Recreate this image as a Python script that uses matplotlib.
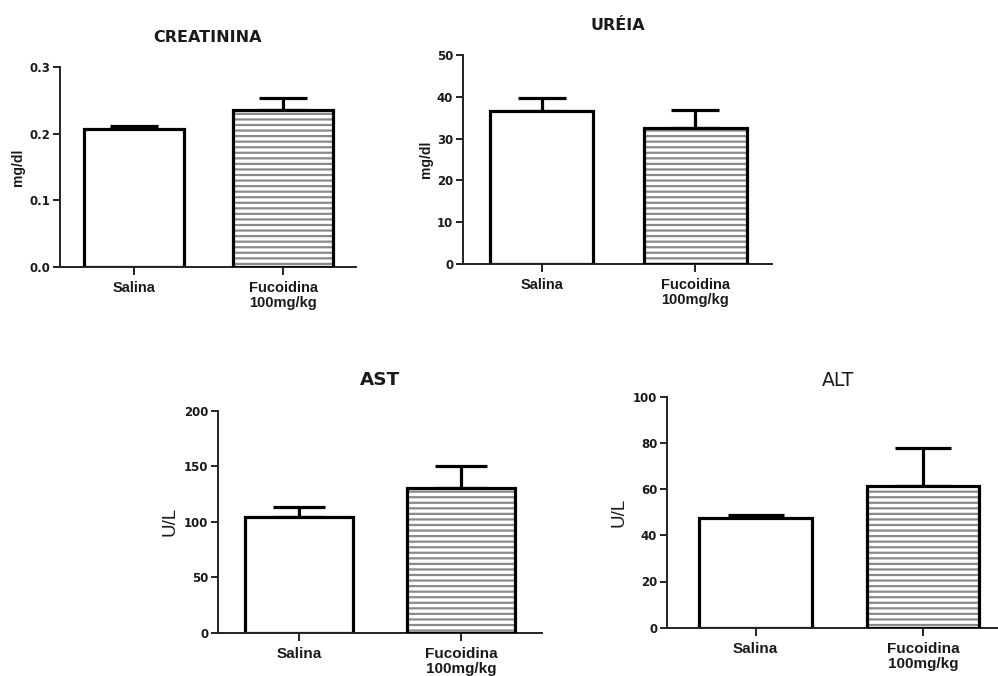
import matplotlib
matplotlib.use("Agg")
import matplotlib.pyplot as plt
import numpy as np

plt.rcParams['font.family'] = ['Liberation Sans', 'DejaVu Sans']
plt.rcParams['hatch.linewidth'] = 1.6

groups = ["Salina", "Fucoidina\n100mg/kg"]

creat_mean = [0.207, 0.235]
creat_err = [0.004, 0.018]
ureia_mean = [36.7, 32.5]
ureia_err = [3.0, 4.4]
ast_mean = [104.0, 130.5]
ast_err = [9.5, 20.0]
alt_mean = [47.5, 61.5]
alt_err = [1.3, 16.3]

W, H = 998, 676
fig = plt.figure(figsize=(W / 100, H / 100), dpi=100)
WIDE = ['DejaVu Sans']


def px_axes(left, right, bottom, top):
    # pixel box -> figure fraction
    return fig.add_axes([left / W, 1 - bottom / H, (right - left) / W, (bottom - top) / H])


def panel(ax, means, errs, ymax, yticks, fmt, title, ylabel, xlim, width, capsize,
          tick_fs, xlab_fs, title_fs, ylab_fs, title_pad, ylab_pad, title_bold=True):
    x = np.arange(len(means))
    # white bar, then hatched bar
    ax.bar(x[0], means[0], width, color='white', edgecolor='black', linewidth=2.3, zorder=2)
    ax.bar(x[1], means[1], width, color='white', edgecolor='#8a8a8a', hatch='---',
           linewidth=0, zorder=2)
    ax.bar(x[1], means[1], width, fill=False, edgecolor='black', linewidth=2.3, zorder=3)
    ax.errorbar(x, means, yerr=[np.zeros(len(errs)), errs], fmt='none', ecolor='black',
                elinewidth=2.3, capsize=capsize, capthick=2.3, zorder=1)

    ax.set_xlim(*xlim)
    ax.set_ylim(0, ymax)
    ax.set_yticks(yticks)
    ax.set_yticklabels([fmt.format(v) for v in yticks], fontsize=tick_fs, fontweight='bold',
                       color='#1a1a1a', family=WIDE)
    ax.set_xticks(x)
    ax.set_xticklabels(groups, fontsize=xlab_fs, fontweight='bold', color='#1a1a1a',
                       linespacing=1.1)
    for s in ['top', 'right']:
        ax.spines[s].set_visible(False)
    for s in ['left', 'bottom']:
        ax.spines[s].set_linewidth(1.4)
        ax.spines[s].set_color('#222222')
    ax.tick_params(axis='y', direction='out', length=5, width=1.4, color='#222222', pad=2)
    ax.tick_params(axis='x', direction='out', length=6, width=1.4, color='#222222', pad=4)
    ax.set_title(title, fontsize=title_fs, fontweight='bold' if title_bold else 'normal',
                 color='#1a1a1a', pad=title_pad, family=WIDE)
    ax.set_ylabel(ylabel, fontsize=ylab_fs, fontweight='bold' if ylabel == 'mg/dl' else 'normal',
                  color='#1a1a1a', labelpad=ylab_pad)


ax1 = px_axes(60, 356, 267, 67)
panel(ax1, creat_mean, creat_err, 0.3, [0.0, 0.1, 0.2, 0.3], "{:.1f}", "CREATININA", "mg/dl",
      (-0.497, 1.49), 0.67, 17, 8.5, 10.5, 11.5, 10, 18, 3)

ax2 = px_axes(463, 772, 264, 55)
panel(ax2, ureia_mean, ureia_err, 50, [0, 10, 20, 30, 40, 50], "{:.0f}", "URÉIA", "mg/dl",
      (-0.513, 1.5), 0.67, 17, 8.5, 10.5, 11.5, 10, 18, 3)

ax3 = px_axes(218, 542, 632.7, 411)
panel(ax3, ast_mean, ast_err, 200, [0, 50, 100, 150, 200], "{:.0f}", "AST", "U/L",
      (-0.5, 1.5), 0.667, 19, 8.5, 11, 13.2, 13.5, 19, 4)

ax4 = px_axes(667, 1010, 627.7, 396.7)
panel(ax4, alt_mean, alt_err, 100, [0, 20, 40, 60, 80, 100], "{:.0f}", "ALT", "U/L",
      (-0.53, 1.52), 0.675, 20, 8.5, 11, 13.5, 13.5, 8, 4, title_bold=False)

fig.savefig("out.png", dpi=100)
